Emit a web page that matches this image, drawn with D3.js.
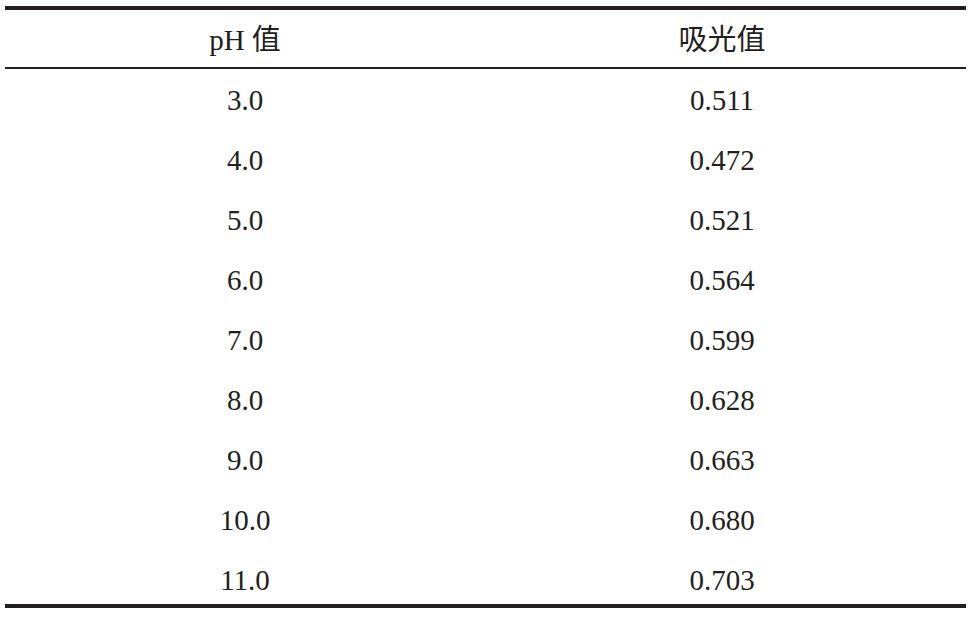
<!DOCTYPE html>
<html><head><meta charset="utf-8">
<script src="https://cdn.jsdelivr.net/npm/d3@7"></script>
<style>body{margin:0;background:#fff}</style>
</head><body>
<script>
const headers = ["pH 值", "吸光值"];
const phValues = ["3.0","4.0","5.0","6.0","7.0","8.0","9.0","10.0","11.0"];
const absorbance = ["0.511","0.472","0.521","0.564","0.599","0.628","0.663","0.680","0.703"];

const W = 974, H = 619;
const svg = d3.select("body").append("svg").attr("width", W).attr("height", H);
const x = d3.scalePoint().domain([0,1]).range([245, 722]);
const y = d3.scalePoint().domain(d3.range(phValues.length)).range([100, 580]);
const font = "'Liberation Serif','Times New Roman','Noto Sans CJK SC',serif";

svg.append("line").attr("x1",5).attr("x2",966).attr("y1",8).attr("y2",8).attr("stroke","#231f20").attr("stroke-width",4);
svg.append("line").attr("x1",5).attr("x2",966).attr("y1",68).attr("y2",68).attr("stroke","#231f20").attr("stroke-width",2);
svg.append("line").attr("x1",5).attr("x2",966).attr("y1",606).attr("y2",606).attr("stroke","#231f20").attr("stroke-width",4);

svg.selectAll("text.h").data(headers).join("text").attr("class","h")
  .attr("x",(d,i)=>x(i)).attr("y",40).attr("text-anchor","middle").attr("dominant-baseline","central")
  .attr("font-family",font).attr("font-size",29).attr("fill","#231f20").text(d=>d);

const rows = phValues.map((p,i)=>[p, absorbance[i]]);
const g = svg.selectAll("g.r").data(rows).join("g").attr("class","r");
g.selectAll("text").data(d=>d).join("text")
  .attr("x",(d,i)=>x(i)).attr("text-anchor","middle").attr("dominant-baseline","central")
  .attr("font-family",font).attr("font-size",29).attr("fill","#231f20").text(d=>d);
g.attr("transform",(d,i)=>`translate(0,${y(i)})`);
</script>
</body></html>
